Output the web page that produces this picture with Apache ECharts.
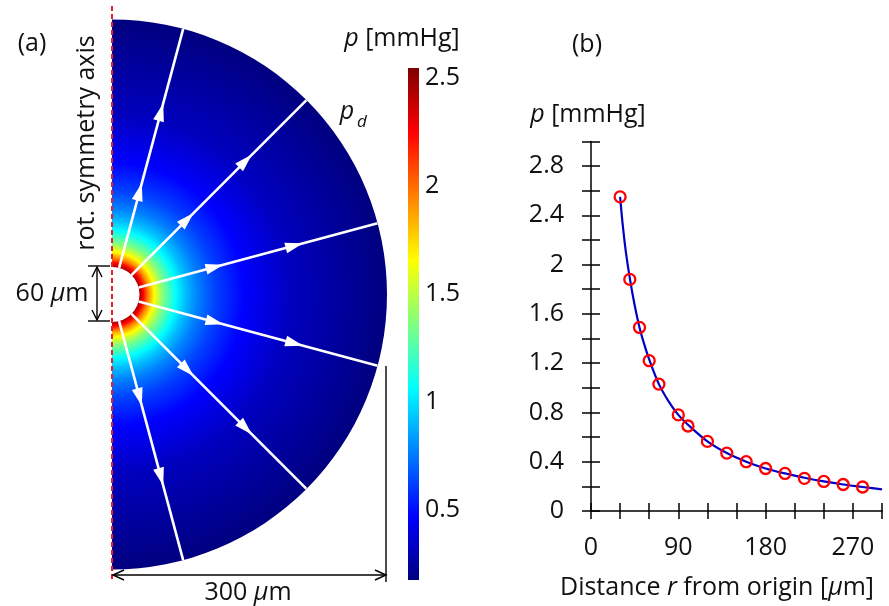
<!DOCTYPE html>
<html>
<head>
<meta charset="utf-8">
<script src="https://cdn.jsdelivr.net/npm/echarts@6/dist/echarts.min.js"></script>
<style>
  html, body { margin: 0; padding: 0; background: #fff; }
  #chart { width: 889px; height: 606px; }
</style>
</head>
<body>
<div id="chart"></div>
<script>
const sampleR = [30, 40, 50, 60, 70, 90, 100, 120, 140, 160, 180, 200, 220, 240, 260, 280];
const sampleP = [2.55, 1.88, 1.49, 1.22, 1.03, 0.78, 0.69, 0.565, 0.47, 0.40, 0.345, 0.305, 0.265, 0.24, 0.215, 0.195];
// (b) solid curve
const curveR = [30, 33, 36, 40, 45, 50, 55, 60, 70, 80, 90, 100, 120, 140, 160, 180, 200, 220, 240, 260, 280, 300];
const curveP = [2.55, 2.30, 2.10, 1.89, 1.67, 1.49, 1.35, 1.23, 1.03, 0.89, 0.78, 0.70, 0.565, 0.47, 0.40, 0.345, 0.305, 0.27, 0.24, 0.215, 0.195, 0.175];
const xLabelValues = [0, 90, 180, 270];
const yLabelValues = [0, 0.4, 0.8, 1.2, 1.6, 2, 2.4, 2.8];

// (a) geometry in µm / degrees
const innerR = 30;
const outerR = 300;
const streamAngles = [75, 45, 15, -15, -45, -75];
const arrowR = [116, 206];
const cbRange = [0.176, 2.546];
const cbLabelValues = [0.5, 1, 1.5, 2, 2.5];

const FONT = '"Open Sans", sans-serif';
const TXT = '#111';
const FS = 25;

// jet colour map
const jetStops = [
  { offset: 0, color: '#7f0000' },
  { offset: 0.125, color: '#ff0000' },
  { offset: 0.25, color: '#ff8000' },
  { offset: 0.375, color: '#ffff00' },
  { offset: 0.5, color: '#80ff80' },
  { offset: 0.625, color: '#00ffff' },
  { offset: 0.75, color: '#0080ff' },
  { offset: 0.875, color: '#0000ff' },
  { offset: 1, color: '#00007f' }
];
// radial shading of the half disc (fraction of outer radius)
const fieldStops = [
  { offset: 0, color: '#7f0000' },
  { offset: 0.100, color: '#a00000' },
  { offset: 0.114, color: '#ff0000' },
  { offset: 0.131, color: '#ff8000' },
  { offset: 0.154, color: '#ffff00' },
  { offset: 0.186, color: '#80ff80' },
  { offset: 0.232, color: '#00ffff' },
  { offset: 0.266, color: '#00c0ff' },
  { offset: 0.312, color: '#0080ff' },
  { offset: 0.378, color: '#0040ff' },
  { offset: 0.48, color: '#0000ff' },
  { offset: 0.65, color: '#0000bf' },
  { offset: 1, color: '#00007f' }
];

const chart = echarts.init(document.getElementById('chart'));

const italic = { fontStyle: 'italic', fontFamily: FONT, fontSize: FS, fill: TXT };
function label(x, y, text, extra) {
  return Object.assign({
    type: 'text', x, y, z: 100,
    style: { text, fontFamily: FONT, fontSize: FS, fill: TXT, align: 'center', verticalAlign: 'middle', rich: { i: italic } }
  }, extra || {});
}
function seg(x1, y1, x2, y2, w) {
  return { type: 'line', z: 100, shape: { x1, y1, x2, y2 }, style: { stroke: '#000', lineWidth: w || 1.4 } };
}
function vee(points) {
  return { type: 'polyline', z: 100, shape: { points }, style: { stroke: '#000', lineWidth: 1.4, fill: null } };
}

const streamSeries = streamAngles.map(a => ({
  type: 'line',
  coordinateSystem: 'polar',
  data: [[innerR, a], [outerR, a]],
  showSymbol: false,
  lineStyle: { color: '#fff', width: 2.6 },
  z: 3,
  silent: true
}));

const arrowData = [];
streamAngles.forEach(a => arrowR.forEach(r => arrowData.push([r, a])));

chart.setOption({
  animation: false,
  polar: { center: [112, 294.5], radius: [0, 275] },
  radiusAxis: { min: 0, max: outerR, show: false },
  angleAxis: { type: 'value', min: -180, max: 180, startAngle: 180, clockwise: false, show: false },
  grid: [
    { left: 591, top: 141.4, width: 291, height: 369.6, outerBoundsMode: 'none', containLabel: false },
    { left: 408, top: 68, width: 11, height: 512, outerBoundsMode: 'none', containLabel: false }
  ],
  xAxis: [
    {
      gridIndex: 0, type: 'value', position: 'bottom', min: 0, max: 300, interval: 30,
      axisLine: { lineStyle: { color: '#000', width: 1.5 } },
      axisTick: { length: 8, lineStyle: { color: '#000', width: 1.5 } },
      axisLabel: { customValues: xLabelValues, fontFamily: FONT, fontSize: FS, color: TXT, margin: 24 },
      splitLine: { show: false }
    },
    {
      gridIndex: 0, type: 'value', position: 'bottom', min: 0, max: 300, interval: 30,
      axisLine: { show: false },
      axisTick: { inside: true, length: 8, lineStyle: { color: '#000', width: 1.5 } },
      axisLabel: { show: false },
      splitLine: { show: false }
    },
    { gridIndex: 1, type: 'value', min: 0, max: 1, show: false }
  ],
  yAxis: [
    {
      gridIndex: 0, type: 'value', position: 'left', min: 0, max: 3, interval: 0.2,
      axisLine: { lineStyle: { color: '#000', width: 1.5 } },
      axisTick: { length: 9, lineStyle: { color: '#000', width: 1.5 } },
      axisLabel: {
        customValues: yLabelValues, fontFamily: FONT, fontSize: FS, color: TXT, margin: 27,
        formatter: v => String(+v.toFixed(1))
      },
      splitLine: { show: false }
    },
    {
      gridIndex: 0, type: 'value', position: 'left', min: 0, max: 3, interval: 0.2,
      axisLine: { show: false },
      axisTick: { inside: true, length: 9, lineStyle: { color: '#000', width: 1.5 } },
      axisLabel: { show: false },
      splitLine: { show: false }
    },
    {
      gridIndex: 1, type: 'value', position: 'right', min: cbRange[0], max: cbRange[1],
      axisLine: { show: false },
      axisTick: { show: false },
      axisLabel: {
        customValues: cbLabelValues, fontFamily: FONT, fontSize: FS, color: TXT, margin: 6,
        formatter: v => String(v)
      },
      splitLine: { show: false }
    }
  ],
  series: [
    {
      // pressure field on the half disc
      type: 'custom',
      coordinateSystem: 'polar',
      data: [[innerR, outerR]],
      z: 1,
      silent: true,
      renderItem(params, api) {
        const cs = params.coordSys;
        const pIn = api.coord([api.value(0), 0]);
        const pOut = api.coord([api.value(1), 0]);
        const r0 = pIn[0] - cs.cx;
        const r = pOut[0] - cs.cx;
        return {
          type: 'sector',
          shape: { cx: cs.cx, cy: cs.cy, r0, r, startAngle: -Math.PI / 2, endAngle: Math.PI / 2, clockwise: true },
          style: {
            fill: { type: 'radial', x: cs.cx, y: cs.cy, r, global: true, colorStops: fieldStops },
            stroke: null
          }
        };
      }
    },
    ...streamSeries,
    {
      type: 'scatter',
      coordinateSystem: 'polar',
      data: arrowData,
      symbol: 'triangle',
      symbolSize: [11, 18],
      symbolRotate: (value) => value[1] - 90,
      itemStyle: { color: '#fff', opacity: 1 },
      z: 4,
      silent: true
    },
    {
      // colour bar
      type: 'custom',
      xAxisIndex: 2, yAxisIndex: 2,
      data: [[0.5, cbRange[0], cbRange[1]]],
      silent: true,
      renderItem(params, api) {
        const top = api.coord([api.value(0), api.value(2)]);
        const bot = api.coord([api.value(0), api.value(1)]);
        const w = api.size([1, 0])[0];
        return {
          type: 'rect',
          shape: { x: top[0] - w / 2, y: top[1], width: w, height: bot[1] - top[1] },
          style: { fill: { type: 'linear', x: 0, y: 0, x2: 0, y2: 1, colorStops: jetStops } }
        };
      }
    },
    {
      type: 'line',
      xAxisIndex: 0, yAxisIndex: 0,
      data: curveR.map((r, i) => [r, curveP[i]]),
      smooth: 0.35,
      showSymbol: false,
      lineStyle: { color: '#0000c8', width: 2.2 },
      z: 3
    },
    {
      type: 'scatter',
      xAxisIndex: 0, yAxisIndex: 0,
      data: sampleR.map((r, i) => [r, sampleP[i]]),
      symbol: 'circle',
      symbolSize: 11,
      itemStyle: { color: 'rgba(0,0,0,0)', borderColor: '#ff0000', borderWidth: 2.3, opacity: 1 },
      z: 4
    }
  ],
  graphic: [
    // symmetry axis
    { type: 'line', z: 100, shape: { x1: 112, y1: 6, x2: 112, y2: 581 }, style: { stroke: '#ee1c25', lineWidth: 2, lineDash: [5, 3] } },
    // 60 µm dimension
    seg(88, 266, 110, 266), seg(88, 321, 110, 321), seg(97, 267, 97, 320),
    vee([[92, 277], [97, 267], [102, 277]]), vee([[92, 310], [97, 320], [102, 310]]),
    // 300 µm dimension
    seg(113, 575, 386, 575), seg(386, 366, 386, 582),
    vee([[124, 570], [113, 575], [124, 580]]), vee([[375, 570], [386, 575], [375, 580]]),
    label(32, 44, '(a)'),
    label(87, 143, 'rot. symmetry axis', { rotation: Math.PI / 2 }),
    label(52, 294, '60 {i|μ}m'),
    label(248, 593, '300 {i|μ}m'),
    label(402, 39, '{i|p} [mmHg]'),
    label(347, 112, '{i|p}'),
    { type: 'text', x: 362, y: 122, z: 100, style: { text: 'd', fontFamily: FONT, fontStyle: 'italic', fontSize: 17, fill: TXT, align: 'center', verticalAlign: 'middle' } },
    label(587, 45, '(b)'),
    label(588, 115, '{i|p} [mmHg]'),
    label(717, 588, 'Distance {i|r} from origin [{i|μ}m]')
  ]
});
</script>
</body>
</html>
